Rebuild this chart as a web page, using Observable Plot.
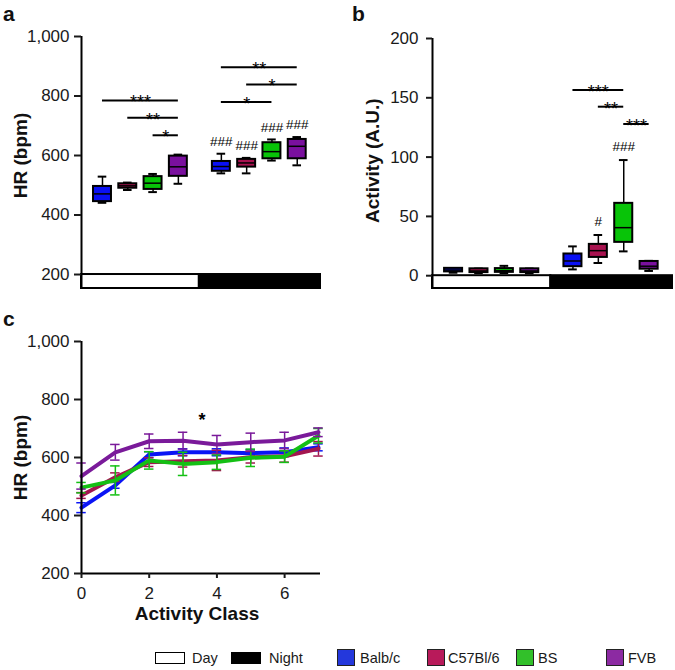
<!DOCTYPE html>
<html><head><meta charset="utf-8">
<script src="https://cdn.jsdelivr.net/npm/d3@7"></script>
<script src="https://cdn.jsdelivr.net/npm/@observablehq/plot@0.6"></script>
<style>
body{margin:0;background:#fff;}
#wrap{position:relative;width:675px;height:670px;font-family:"Liberation Sans",Arial,sans-serif;color:#1a1a1a;overflow:hidden;}
.panel{position:absolute;}
.panel svg{overflow:visible;}
.lg{position:absolute;box-sizing:border-box;}
.lgt{position:absolute;font-size:14.5px;line-height:16px;}
</style></head><body><div id="wrap"></div>
<script>
// ---------------- DATA ----------------
const strains = ["Balb/c", "C57Bl/6", "BS", "FVB"];
const periods = ["Day", "Night"];
// Panel a: heart rate (bpm) box stats per strain: [min, q1, median, q3, max]
const hrDay   = [[441,445,471,496,529],[484,490,498,505,509],[477,486,507,529,538],[505,530,562,598,603]];
const hrNight = [[540,547,563,580,606],[540,561,575,587,592],[583,589,613,643,654],[567,589,631,654,662]];
// Panel b: activity (A.U.) box stats per strain: [min, q1, median, q3, max]
const actDay   = [[2.5,3.2,4.8,6.2,6.5],[2.2,2.6,4,5.8,6],[2.2,2.8,4.2,6,8.3],[2,2.6,4,5.8,6]];
const actNight = [[5.3,7.6,12.4,18.3,24.7],[10.7,15.4,21.1,26.4,34.3],[20.5,28.1,40.5,61,97.5],[4,5.5,8,12,12.5]];
const hrTicks = [200, 400, 600, 800, 1000];
const actTicks = [0, 50, 100, 150, 200];
// significance brackets: period index, from strain, to strain, level, label
const sigA = [
  {p:0, from:0, to:3, y:785, label:"***"},
  {p:0, from:1, to:3, y:727, label:"**"},
  {p:0, from:2, to:3, y:668, label:"*"},
  {p:1, from:0, to:3, y:897, label:"**"},
  {p:1, from:1, to:3, y:839, label:"*"},
  {p:1, from:0, to:2, y:780, label:"*"}
];
const hashA = [
  {p:1, s:0, y:647, label:"###"},
  {p:1, s:1, y:634, label:"###"},
  {p:1, s:2, y:695, label:"###"},
  {p:1, s:3, y:703, label:"###"}
];
const sigB = [
  {p:1, from:0, to:2, y:156.5, label:"***"},
  {p:1, from:1, to:2, y:142.5, label:"**"},
  {p:1, from:2, to:3, y:127.9, label:"***"}
];
const hashB = [
  {p:1, s:1, y:45.5, label:"#"},
  {p:1, s:2, y:108.7, label:"###"}
];
// Panel c: HR by activity class, mean and error per strain
const activityClass = [0, 1, 2, 3, 4, 5, 6, 7];
const hrBalb = [427, 504, 610, 618, 618, 615, 618, 635];
const errBalb = [17, 10, 10, 12, 12, 12, 15, 12];
const hrC57 = [469, 532, 584, 587, 590, 601, 604, 630];
const errC57 = [10, 15, 15, 20, 35, 20, 20, 25];
const hrBS = [496, 521, 590, 578, 584, 599, 603, 675];
const errBS = [18, 50, 30, 40, 25, 30, 20, 25];
const hrFVB = [536, 618, 656, 658, 645, 653, 659, 687];
const errFVB = [45, 27, 25, 29, 31, 31, 28, 15];
const sigC = [{x:3.56, y:744, label:"*"}];
const classTicks = [0, 2, 4, 6];

// ---------------- STYLE / LAYOUT ----------------
const markColors = ["#0a10f4", "#a8124f", "#08c408", "#7a109e"];
const legendColors = ["#2438dc", "#b81a5a", "#32c02a", "#8c2aa2"];
const lineColors = ["#0a14f5", "#a3164f", "#14c014", "#7a1a9a"];
const font = '"Liberation Sans", Arial, sans-serif';
const xPos = (p, s) => (p ? 5.7 : 1) + s;
const bandBounds = [[0.17, 4.83], [4.83, 9.62]];
const BW = 0.355, CW = 0.17;

function boxPanel(opts) {
  const {day, night, yDomain, ticks, barTop, sig, hash, ylabel, ylabelAt, marginLeft, marginRight, marginTop, width, tickSize, tickPadding, ylabelDx} = opts;
  const boxes = [day, night].flatMap((arr, pi) => arr.map((s, si) => ({
    x: xPos(pi, si), strain: strains[si], min: s[0], q1: s[1], med: s[2], q3: s[3], max: s[4]
  })));
  const bands = periods.map((name, i) => ({name, x1: bandBounds[i][0], x2: bandBounds[i][1]}));
  return Plot.plot({
    width, height: 300, marginLeft, marginRight, marginTop, marginBottom: 12,
    style: {fontFamily: font, fontSize: "17px", color: "#1a1a1a", background: "transparent"},
    x: {domain: [bandBounds[0][0], bandBounds[1][1]], axis: null},
    y: {domain: yDomain, axis: null},
    color: {domain: strains, range: markColors},
    marks: [
      Plot.rect(bands, {x1: "x1", x2: "x2", y1: yDomain[0], y2: barTop, fill: d => d.name === "Day" ? "white" : "black", stroke: "black", strokeWidth: 2}),
      Plot.ruleX(boxes, {x: "x", y1: "min", y2: "max", stroke: "black", strokeWidth: 1.5}),
      Plot.ruleY(boxes, {y: "min", x1: d => d.x - CW, x2: d => d.x + CW, stroke: "black", strokeWidth: 2}),
      Plot.ruleY(boxes, {y: "max", x1: d => d.x - CW, x2: d => d.x + CW, stroke: "black", strokeWidth: 2}),
      Plot.rect(boxes, {x1: d => d.x - BW, x2: d => d.x + BW, y1: "q1", y2: "q3", fill: "strain", stroke: "black", strokeWidth: 2}),
      Plot.ruleY(boxes, {y: "med", x1: d => d.x - BW, x2: d => d.x + BW, stroke: "black", strokeWidth: 1.5}),
      Plot.ruleY(sig, {y: "y", x1: d => xPos(d.p, d.from), x2: d => xPos(d.p, d.to), stroke: "black", strokeWidth: 2}),
      Plot.text(sig, {x: d => (xPos(d.p, d.from) + xPos(d.p, d.to)) / 2, y: "y", text: "label", fontSize: 18, lineAnchor: "bottom", dy: 8, fill: "#000"}),
      Plot.text(hash, {x: d => xPos(d.p, d.s), y: "y", text: "label", fontSize: 13.5, lineAnchor: "middle", fill: "#000"}),
      Plot.ruleX([bandBounds[0][0]], {stroke: "black", strokeWidth: 2}),
      Plot.axisY({ticks, tickFormat: d3.format(","), tickSize, tickPadding, strokeWidth: 2, label: null, fontSize: 17}),
      Plot.text([ylabel], {x: bandBounds[0][0], y: ylabelAt, text: d => d, rotate: -90, dx: ylabelDx, fontWeight: "bold", fontSize: 19, lineAnchor: "middle", fill: "#111"})
    ]
  });
}

const wrap = document.getElementById("wrap");
function place(node, left, top) {
  const d = document.createElement("div");
  d.className = "panel"; d.style.left = left + "px"; d.style.top = top + "px";
  d.appendChild(node); wrap.appendChild(d);
}

place(boxPanel({day: hrDay, night: hrNight, yDomain: [153, 1000], ticks: hrTicks, barTop: 200, sig: sigA, hash: hashA,
  ylabel: "HR (bpm)", ylabelAt: 600, ylabelDx: -60.5, marginLeft: 81, marginRight: 20, marginTop: 36, width: 340, tickSize: 7, tickPadding: 5}), 0, 0);

place(boxPanel({day: actDay, night: actNight, yDomain: [-10.8, 200], ticks: actTicks, barTop: 0, sig: sigB, hash: hashB,
  ylabel: "Activity (A.U.)", ylabelAt: 97, ylabelDx: -60, marginLeft: 92, marginRight: 3, marginTop: 38, width: 335, tickSize: 6, tickPadding: 8}), 340, 0);

// Panel c
const series = [hrBalb, hrC57, hrBS, hrFVB].map((vals, si) => activityClass.map((c, i) => ({
  strain: strains[si], cls: c, hr: vals[i], err: [errBalb, errC57, errBS, errFVB][si][i]
})));
const cMarks = [];
series.forEach((pts, si) => {
  cMarks.push(
    Plot.ruleX(pts, {x: "cls", y1: d => d.hr - d.err, y2: d => d.hr + d.err, stroke: lineColors[si], strokeWidth: 1.5}),
    Plot.ruleY(pts, {y: d => d.hr - d.err, x1: d => d.cls - 0.14, x2: d => d.cls + 0.14, stroke: lineColors[si], strokeWidth: 1.5}),
    Plot.ruleY(pts, {y: d => d.hr + d.err, x1: d => d.cls - 0.14, x2: d => d.cls + 0.14, stroke: lineColors[si], strokeWidth: 1.5}),
    Plot.line(pts, {x: "cls", y: "hr", stroke: lineColors[si], strokeWidth: 4, strokeLinejoin: "miter"})
  );
});
const plotC = Plot.plot({
  width: 340, height: 330, marginLeft: 81, marginRight: 20, marginTop: 41, marginBottom: 57,
  style: {fontFamily: font, fontSize: "17px", color: "#1a1a1a", background: "transparent"},
  x: {domain: [0, 7.06], axis: null},
  y: {domain: [200, 1000], axis: null},
  marks: [
    ...cMarks,
    Plot.text(sigC, {x: "x", y: "y", text: "label", fontSize: 18, fontWeight: "bold", lineAnchor: "bottom", dy: 10, fill: "#000"}),
    Plot.ruleX([0], {stroke: "black", strokeWidth: 2}),
    Plot.ruleY([200], {stroke: "black", strokeWidth: 2}),
    Plot.axisY({ticks: hrTicks, tickFormat: d3.format(","), tickSize: 7, tickPadding: 5, strokeWidth: 2, label: null, fontSize: 17}),
    Plot.axisX({ticks: classTicks, tickFormat: d3.format("d"), tickSize: 5, tickPadding: 8, strokeWidth: 2, label: null, fontSize: 17}),
    Plot.text(["HR (bpm)"], {x: 0, y: 600, text: d => d, rotate: -90, dx: -61, fontWeight: "bold", fontSize: 19, lineAnchor: "middle", fill: "#111"}),
    Plot.text(["Activity Class"], {frameAnchor: "bottom", text: d => d, dy: 40, dx: -4, fontWeight: "bold", fontSize: 19, lineAnchor: "middle", fill: "#111"})
  ]
});
place(plotC, 0, 300);

// Panel letters
const ov = d3.select(wrap).append("svg").attr("width", 675).attr("height", 670)
  .style("position", "absolute").style("left", 0).style("top", 0).style("pointer-events", "none");
[["a", 3, 21], ["b", 352, 21], ["c", 3, 326]].forEach(([t, x, y]) =>
  ov.append("text").attr("x", x).attr("y", y).attr("font-family", font).attr("font-weight", "bold").attr("font-size", 21).attr("fill", "#111").text(t));

// Legend
const legendItems = [
  {kind: "band", label: periods[0], left: 155, fill: "#fff", tx: 192},
  {kind: "band", label: periods[1], left: 231, fill: "#000", tx: 269},
  ...strains.map((s, i) => ({kind: "strain", label: s, left: [337, 427, 516, 606][i], fill: legendColors[i], tx: [360, 448, 538, 628][i]}))
];
legendItems.forEach(it => {
  const b = document.createElement("div");
  b.className = "lg";
  if (it.kind === "band") {
    Object.assign(b.style, {left: it.left + "px", top: "652px", width: "30px", height: "12px", background: it.fill, border: "1.5px solid #000"});
  } else {
    Object.assign(b.style, {left: it.left + "px", top: "649px", width: "18px", height: "17px", background: it.fill, border: "1px solid #222"});
  }
  wrap.appendChild(b);
  const t = document.createElement("div");
  t.className = "lgt"; t.textContent = it.label;
  Object.assign(t.style, {left: it.tx + "px", top: "650px"});
  wrap.appendChild(t);
});
</script></body></html>
